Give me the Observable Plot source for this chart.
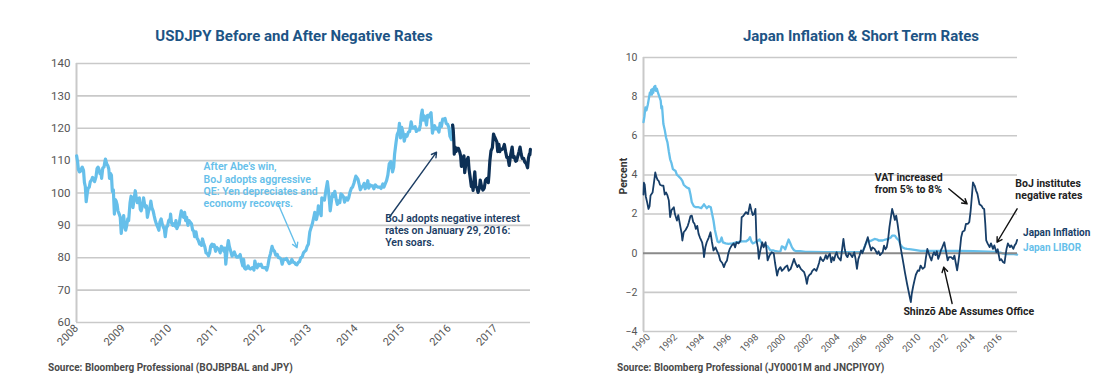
<!DOCTYPE html>
<html><head><meta charset="utf-8">
<script src="https://cdn.jsdelivr.net/npm/d3@7"></script>
<script src="https://cdn.jsdelivr.net/npm/@observablehq/plot@0.6"></script>
<style>
body{margin:0;background:#fff;font-family:Roboto,"Liberation Sans",sans-serif;}
#wrap{position:relative;width:1120px;height:390px;overflow:hidden;background:#fff}
.title{position:absolute;top:27px;font-weight:700;font-size:15px;line-height:18px;color:#1d5485;text-align:center;white-space:nowrap}
.src{position:absolute;top:362px;font-size:10px;line-height:12px;font-weight:700;color:#4a4a4a;white-space:nowrap}
.chart{position:absolute}
</style></head>
<body><div id="wrap">
<div class="title" style="left:94px;width:400px">USDJPY Before and After Negative Rates</div>
<div class="title" style="left:661px;width:400px">Japan Inflation &amp; Short Term Rates</div>
<div class="src" style="left:48px">Source: Bloomberg Professional (BOJBPBAL and JPY)</div>
<div class="src" style="left:617px">Source: Bloomberg Professional (JY0001M and JNCPIYOY)</div>
<div id="left" class="chart" style="left:0;top:50px"></div>
<div id="right" class="chart" style="left:560px;top:45px"></div>
</div>
<script>
// ---------- Left chart data: USDJPY ----------
const usdjpyBefore = [
["2008-01-02",111.5],["2008-01-10",109.5],["2008-01-16",107.2],["2008-01-24",106.5],["2008-02-01",106.7],["2008-02-08",107.5],["2008-02-15",108.0],["2008-02-25",107.0],
["2008-03-03",103.3],["2008-03-10",102.0],["2008-03-17",97.3],["2008-03-25",99.8],["2008-04-01",101.5],["2008-04-10",101.8],["2008-04-18",103.5],["2008-04-28",104.0],
["2008-05-06",104.8],["2008-05-14",104.3],["2008-05-22",103.5],["2008-06-02",105.0],["2008-06-10",107.5],["2008-06-18",108.0],["2008-06-26",107.3],["2008-07-03",106.0],
["2008-07-11",106.5],["2008-07-16",104.5],["2008-07-25",107.7],["2008-08-04",108.0],["2008-08-11",109.8],["2008-08-15",110.5],["2008-08-25",109.0],["2008-09-02",108.5],
["2008-09-10",107.5],["2008-09-16",104.5],["2008-09-24",106.0],["2008-10-01",105.5],["2008-10-08",100.5],["2008-10-16",101.0],["2008-10-24",93.5],["2008-10-31",98.0],
["2008-11-07",97.5],["2008-11-14",96.5],["2008-11-21",94.5],["2008-12-01",93.5],["2008-12-09",92.5],["2008-12-17",87.5],["2008-12-24",90.5],
["2009-01-05",93.0],["2009-01-13",89.5],["2009-01-21",88.5],["2009-01-29",90.0],["2009-02-06",92.0],["2009-02-13",91.5],["2009-02-24",97.0],["2009-03-04",99.0],
["2009-03-11",98.5],["2009-03-19",95.5],["2009-03-27",98.0],["2009-04-06",100.7],["2009-04-14",98.5],["2009-04-22",97.0],["2009-04-30",98.0],["2009-05-08",98.5],
["2009-05-15",95.0],["2009-05-22",94.5],["2009-06-01",96.0],["2009-06-10",98.5],["2009-06-18",96.5],["2009-06-26",95.5],["2009-07-03",96.0],["2009-07-10",92.5],
["2009-07-20",94.5],["2009-07-30",95.5],["2009-08-06",97.5],["2009-08-14",95.5],["2009-08-24",94.5],["2009-09-01",93.0],["2009-09-10",91.5],["2009-09-18",90.5],
["2009-09-29",89.5],["2009-10-08",88.5],["2009-10-16",91.0],["2009-10-26",92.0],["2009-11-03",90.5],["2009-11-12",89.5],["2009-11-20",88.8],["2009-11-27",86.5],
["2009-12-07",89.5],["2009-12-15",89.8],["2009-12-24",91.5],
["2010-01-05",92.0],["2010-01-08",93.5],["2010-01-15",90.8],["2010-01-25",90.0],["2010-02-03",90.5],["2010-02-12",89.8],["2010-02-19",91.5],["2010-02-26",89.0],
["2010-03-08",90.0],["2010-03-16",90.3],["2010-03-24",92.5],["2010-04-02",94.5],["2010-04-12",93.0],["2010-04-20",92.5],["2010-04-28",94.0],["2010-05-06",91.5],
["2010-05-14",92.5],["2010-05-24",90.0],["2010-06-01",91.5],["2010-06-10",91.0],["2010-06-21",90.5],["2010-06-30",88.5],["2010-07-08",88.3],["2010-07-16",86.5],
["2010-07-26",88.0],["2010-08-04",86.0],["2010-08-12",85.5],["2010-08-24",84.2],["2010-09-01",84.3],["2010-09-08",83.8],["2010-09-15",85.8],["2010-09-24",84.5],
["2010-10-04",83.3],["2010-10-13",81.5],["2010-10-22",81.3],["2010-11-01",80.6],["2010-11-10",81.5],["2010-11-18",83.5],["2010-11-29",84.2],["2010-12-08",83.5],
["2010-12-16",84.0],["2010-12-27",82.0],
["2011-01-05",83.2],["2011-01-13",82.8],["2011-01-24",82.5],["2011-02-01",81.5],["2011-02-10",83.5],["2011-02-21",83.0],["2011-03-02",82.0],["2011-03-10",83.0],
["2011-03-17",78.0],["2011-03-24",81.0],["2011-04-01",84.0],["2011-04-06",85.3],["2011-04-14",83.5],["2011-04-26",81.8],["2011-05-05",80.5],["2011-05-13",81.0],
["2011-05-23",81.8],["2011-06-01",80.8],["2011-06-10",80.2],["2011-06-20",80.2],["2011-06-30",80.5],["2011-07-08",81.0],["2011-07-18",79.0],["2011-07-28",77.5],
["2011-08-04",79.5],["2011-08-11",76.8],["2011-08-19",76.5],["2011-08-30",76.8],["2011-09-08",77.5],["2011-09-16",76.8],["2011-09-26",76.5],["2011-10-05",76.8],
["2011-10-14",77.0],["2011-10-24",76.2],["2011-10-31",79.0],["2011-11-09",77.5],["2011-11-18",76.9],["2011-11-29",78.0],["2011-12-08",77.6],["2011-12-19",78.0],
["2011-12-29",77.0],
["2012-01-10",76.9],["2012-01-20",77.0],["2012-02-01",76.2],["2012-02-10",77.5],["2012-02-20",79.8],["2012-03-01",81.2],["2012-03-14",83.5],["2012-03-22",82.5],
["2012-04-02",82.0],["2012-04-12",80.8],["2012-04-24",81.0],["2012-05-03",80.0],["2012-05-14",80.0],["2012-05-24",79.5],["2012-06-01",78.0],["2012-06-12",79.5],
["2012-06-25",79.5],["2012-07-05",79.8],["2012-07-16",78.9],["2012-07-26",78.2],["2012-08-06",78.5],["2012-08-16",79.5],["2012-08-27",78.6],["2012-09-06",78.5],
["2012-09-14",78.0],["2012-09-25",77.8],["2012-10-04",78.5],["2012-10-15",78.8],["2012-10-25",80.0],["2012-11-05",80.2],["2012-11-15",81.5],["2012-11-26",82.0],
["2012-12-05",82.3],["2012-12-14",83.5],["2012-12-24",84.2],
["2013-01-04",88.0],["2013-01-14",89.3],["2013-01-24",90.5],["2013-02-04",92.5],["2013-02-12",94.0],["2013-02-25",91.8],["2013-03-06",93.5],["2013-03-12",96.0],
["2013-03-25",94.3],["2013-04-03",93.0],["2013-04-08",98.5],["2013-04-18",98.0],["2013-04-29",97.8],["2013-05-09",100.5],["2013-05-22",103.5],["2013-05-30",100.8],
["2013-06-07",97.5],["2013-06-13",94.5],["2013-06-24",98.0],["2013-07-03",99.8],["2013-07-11",99.0],["2013-07-19",100.5],["2013-07-31",97.8],["2013-08-08",96.5],
["2013-08-16",97.6],["2013-08-27",97.0],["2013-09-05",99.7],["2013-09-13",99.5],["2013-09-25",98.8],["2013-10-04",97.2],["2013-10-16",98.5],["2013-10-28",97.8],
["2013-11-05",98.5],["2013-11-15",100.2],["2013-11-26",101.5],["2013-12-05",101.8],["2013-12-16",103.0],["2013-12-31",105.2],
["2014-01-08",104.8],["2014-01-17",104.2],["2014-01-27",102.5],["2014-02-04",101.0],["2014-02-14",101.8],["2014-02-25",102.2],["2014-03-06",103.0],["2014-03-14",101.3],
["2014-03-26",102.2],["2014-04-04",103.8],["2014-04-11",101.5],["2014-04-23",102.5],["2014-05-02",102.2],["2014-05-13",102.2],["2014-05-21",101.3],["2014-06-02",102.5],
["2014-06-13",102.0],["2014-06-25",101.8],["2014-07-07",101.8],["2014-07-17",101.4],["2014-07-31",102.8],["2014-08-08",101.8],["2014-08-19",102.9],["2014-08-29",103.8],
["2014-09-08",105.5],["2014-09-19",109.0],["2014-10-01",109.7],["2014-10-15",106.5],["2014-10-24",108.0],["2014-10-31",112.0],["2014-11-11",115.5],["2014-11-20",118.0],
["2014-12-01",119.0],["2014-12-08",121.5],["2014-12-16",117.0],["2014-12-26",120.3],
["2015-01-06",118.5],["2015-01-15",116.0],["2015-01-26",118.0],["2015-02-05",117.5],["2015-02-16",118.8],["2015-02-26",119.0],["2015-03-10",122.0],["2015-03-20",120.0],
["2015-03-31",120.0],["2015-04-10",120.5],["2015-04-20",119.0],["2015-04-30",119.5],["2015-05-13",119.5],["2015-05-21",121.0],["2015-05-28",124.0],["2015-06-05",125.6],
["2015-06-11",122.5],["2015-06-22",123.8],["2015-07-01",122.5],["2015-07-08",121.0],["2015-07-17",124.0],["2015-07-28",123.5],["2015-08-07",124.5],["2015-08-13",124.8],
["2015-08-24",118.5],["2015-09-01",120.0],["2015-09-10",120.8],["2015-09-18",119.8],["2015-10-01",120.0],["2015-10-14",118.8],["2015-10-23",121.5],["2015-11-02",120.5],
["2015-11-12",122.8],["2015-11-20",122.8],["2015-12-01",123.0],["2015-12-10",121.5],["2015-12-21",121.2],["2015-12-31",120.2],
["2016-01-08",117.5],["2016-01-15",117.0],["2016-01-20",116.5],["2016-01-28",118.5],["2016-01-29",121.0]
];
const usdjpyAfter = [
["2016-01-29",121.0],["2016-02-03",119.5],["2016-02-08",115.8],["2016-02-11",112.0],["2016-02-17",114.2],["2016-02-25",112.8],["2016-03-03",113.8],["2016-03-14",113.8],
["2016-03-24",112.8],["2016-04-01",111.5],["2016-04-07",108.2],["2016-04-18",108.8],["2016-04-27",111.5],["2016-05-03",106.3],["2016-05-12",109.0],["2016-05-20",110.2],
["2016-05-30",111.0],["2016-06-06",107.3],["2016-06-16",104.5],["2016-06-24",102.0],["2016-07-01",102.5],["2016-07-08",100.8],["2016-07-21",106.5],["2016-07-29",102.0],
["2016-08-05",101.8],["2016-08-16",100.2],["2016-08-26",101.5],["2016-09-02",104.0],["2016-09-12",102.0],["2016-09-23",100.9],["2016-10-03",101.5],["2016-10-13",104.0],
["2016-10-25",104.5],["2016-11-04",103.2],["2016-11-09",105.5],["2016-11-16",109.8],["2016-11-25",113.0],["2016-12-06",114.0],["2016-12-15",118.2],["2016-12-22",117.5],
["2016-12-30",116.8],["2017-01-10",115.8],["2017-01-17",112.8],["2017-01-26",115.0],["2017-02-02",112.8],["2017-02-10",113.5],["2017-02-21",113.5],["2017-03-02",114.0],
["2017-03-10",115.0],["2017-03-20",112.7],["2017-03-29",111.0],["2017-04-07",111.0],["2017-04-17",108.5],["2017-04-27",111.5],["2017-05-10",114.2],["2017-05-18",111.0],
["2017-05-26",111.3],["2017-06-07",109.8],["2017-06-14",110.0],["2017-06-23",111.3],["2017-07-03",112.8],["2017-07-11",114.2],["2017-07-20",112.0],["2017-07-28",110.7],
["2017-08-08",110.7],["2017-08-17",109.6],["2017-08-29",109.0],["2017-09-08",107.8],["2017-09-15",110.8],["2017-09-22",112.0],["2017-09-26",111.8],["2017-09-30",113.5]
];
const usdTicks = [60,70,80,90,100,110,120,130,140];
const usdYears = ["2008","2009","2010","2011","2012","2013","2014","2015","2016","2017"];
const usdNotes = [
  {date:"2010-09-24", value:109.6, text:"After Abe's win,\nBoJ adopts aggressive\nQE: Yen depreciates and\neconomy recovers.", color:"light"},
  {date:"2014-08-18", value:93.6, text:"BoJ adopts negative interest\nrates on January 29, 2016:\nYen soars.", color:"dark"}
];
const usdArrows = [
  {from:"2012-04-30", v1:96.7, to:"2012-09-26", v2:83.1, color:"light"},
  {from:"2014-09-20", v1:92.5, to:"2015-09-25", v2:112.6, color:"dark"}
];

// ---------- Right chart data: Japan inflation & LIBOR (decimal years) ----------
const inflation = [
[1989.63,3.0],[1989.66,3.6],[1989.72,3.5],[1989.8,2.9],[1989.9,2.6],[1990.0,2.26],[1990.08,2.4],[1990.15,2.95],[1990.3,3.1],[1990.42,3.7],[1990.5,4.13],[1990.58,3.9],
[1990.67,3.75],[1990.75,3.7],[1990.85,3.5],[1991.0,3.45],[1991.1,3.45],[1991.2,3.0],[1991.3,3.1],[1991.4,2.95],[1991.5,2.7],[1991.6,1.84],[1991.7,2.2],[1991.87,2.35],
[1991.95,2.0],[1992.1,1.67],[1992.2,1.95],[1992.36,1.33],[1992.45,1.0],[1992.5,0.65],[1992.6,1.07],[1992.75,1.2],[1992.9,1.4],[1992.98,1.58],[1993.1,1.9],[1993.2,1.92],
[1993.3,1.6],[1993.4,1.5],[1993.5,1.24],[1993.6,1.4],[1993.7,0.99],[1993.8,0.8],[1993.96,0.56],[1994.05,0.2],[1994.1,-0.2],[1994.2,0.3],[1994.3,0.56],[1994.45,0.8],
[1994.58,1.07],[1994.68,0.6],[1994.8,0.14],[1994.95,0.3],[1995.1,0.05],[1995.2,-0.1],[1995.3,-0.37],[1995.45,-0.5],[1995.57,-0.71],[1995.68,-0.5],[1995.8,-0.37],[1995.9,0.0],
[1996.0,0.22],[1996.15,0.4],[1996.3,0.5],[1996.4,0.3],[1996.5,0.56],[1996.65,0.5],[1996.8,0.65],[1996.88,1.84],[1997.0,1.9],[1997.2,2.1],[1997.35,2.0],[1997.5,2.5],
[1997.6,2.2],[1997.7,1.95],[1997.8,2.0],[1997.9,2.26],[1997.98,0.65],[1998.08,0.3],[1998.15,-0.29],[1998.25,0.1],[1998.4,0.56],[1998.5,0.3],[1998.65,0.56],[1998.72,0.2],
[1998.8,-0.37],[1998.95,-0.1],[1999.1,0.05],[1999.25,0.0],[1999.35,-0.5],[1999.5,-1.14],[1999.6,-0.85],[1999.75,-0.71],[1999.85,-0.9],[2000.0,-0.8],[2000.1,-0.7],[2000.25,-0.63],
[2000.35,-0.9],[2000.5,-0.8],[2000.6,-0.6],[2000.75,-0.29],[2000.85,-0.5],[2001.0,-0.71],[2001.1,-0.6],[2001.25,-0.8],[2001.4,-0.9],[2001.5,-0.97],[2001.6,-1.2],[2001.7,-1.56],
[2001.8,-1.2],[2001.9,-1.1],[2002.0,-1.05],[2002.1,-0.9],[2002.25,-0.8],[2002.4,-0.9],[2002.5,-0.71],[2002.6,-0.5],[2002.7,-0.2],[2002.75,-0.29],[2002.9,-0.4],[2003.0,-0.29],
[2003.1,-0.1],[2003.2,-0.29],[2003.3,-0.12],[2003.4,-0.03],[2003.5,-0.46],[2003.6,-0.2],[2003.7,-0.37],[2003.8,-0.1],[2003.9,0.05],[2004.0,-0.2],[2004.2,-0.37],[2004.3,0.2],
[2004.4,0.73],[2004.5,0.2],[2004.6,-0.1],[2004.7,-0.2],[2004.8,0.0],[2004.9,-0.03],[2005.05,-0.2],[2005.2,0.05],[2005.3,-0.3],[2005.4,-0.8],[2005.5,-0.3],[2005.6,-0.1],
[2005.7,0.14],[2005.8,0.0],[2005.9,0.2],[2006.0,0.39],[2006.1,0.6],[2006.2,0.82],[2006.3,0.5],[2006.45,0.14],[2006.55,0.3],[2006.7,0.22],[2006.8,0.1],[2006.9,-0.03],
[2007.0,0.1],[2007.1,-0.1],[2007.3,0.05],[2007.4,0.39],[2007.5,0.2],[2007.6,0.31],[2007.7,0.7],[2007.8,1.33],[2007.9,1.8],[2008.0,2.26],[2008.1,2.0],[2008.2,1.7],
[2008.3,1.92],[2008.4,1.5],[2008.5,0.99],[2008.6,0.4],[2008.75,-0.2],[2008.85,-0.6],[2008.95,-1.0],[2009.1,-1.56],[2009.2,-1.9],[2009.3,-2.24],[2009.38,-2.5],[2009.45,-2.07],
[2009.55,-1.7],[2009.65,-1.39],[2009.75,-1.1],[2009.9,-0.88],[2010.0,-0.9],[2010.1,-0.63],[2010.25,-0.8],[2010.4,-0.71],[2010.5,-0.2],[2010.6,0.22],[2010.7,0.0],[2010.8,-0.2],
[2010.9,-0.37],[2011.0,-0.1],[2011.1,0.05],[2011.2,-0.1],[2011.3,0.1],[2011.4,-0.29],[2011.5,-0.1],[2011.6,0.14],[2011.7,0.3],[2011.85,0.56],[2011.95,0.2],[2012.1,-0.37],
[2012.2,-0.2],[2012.35,-0.2],[2012.5,-0.3],[2012.6,-0.12],[2012.7,-0.5],[2012.8,-0.88],[2012.9,-0.4],[2013.0,0.14],[2013.1,0.82],[2013.2,1.1],[2013.35,1.16],[2013.45,1.5],
[2013.6,1.5],[2013.7,1.6],[2013.8,2.18],[2013.9,3.0],[2013.97,3.62],[2014.05,3.5],[2014.1,3.45],[2014.2,3.2],[2014.3,3.03],[2014.45,2.5],[2014.6,2.43],[2014.7,2.3],
[2014.8,2.26],[2014.88,1.5],[2014.95,0.65],[2015.05,0.5],[2015.2,0.31],[2015.3,0.5],[2015.45,0.22],[2015.55,0.4],[2015.7,0.05],[2015.8,0.2],[2015.95,-0.37],[2016.05,-0.3],
[2016.2,-0.46],[2016.3,-0.5],[2016.4,0.0],[2016.45,0.22],[2016.55,0.5],[2016.7,0.31],[2016.8,0.4],[2016.95,0.22],[2017.05,0.4],[2017.15,0.5],[2017.23,0.68]
];
const libor = [
[1989.63,6.7],[1989.7,7.0],[1989.77,7.45],[1989.85,7.3],[1989.95,7.6],[1990.05,8.0],[1990.1,8.2],[1990.15,8.1],[1990.2,8.35],[1990.25,8.1],[1990.3,8.4],[1990.35,8.2],
[1990.42,8.5],[1990.5,8.55],[1990.55,8.3],[1990.62,8.4],[1990.7,8.2],[1990.8,8.0],[1990.9,7.8],[1990.95,7.4],[1991.0,7.5],[1991.1,6.6],[1991.2,6.3],[1991.3,5.9],
[1991.4,5.66],[1991.5,5.2],[1991.6,4.8],[1991.7,4.6],[1991.8,4.3],[1992.0,4.2],[1992.1,4.0],[1992.2,3.95],[1992.4,3.8],[1992.5,3.7],[1992.6,3.5],[1992.8,3.37],
[1993.0,3.3],[1993.1,3.0],[1993.2,2.6],[1993.35,2.4],[1993.5,2.35],[1993.7,2.35],[1993.9,2.3],[1994.1,2.5],[1994.3,2.3],[1994.45,2.4],[1994.6,2.35],[1994.7,2.0],
[1994.8,1.67],[1994.9,1.2],[1995.1,0.6],[1995.2,0.56],[1995.3,0.6],[1995.4,0.8],[1995.5,0.55],[1995.7,0.5],[1995.9,0.48],[1996.2,0.5],[1996.5,0.55],[1996.9,0.6],
[1997.2,0.6],[1997.4,0.7],[1997.5,0.82],[1997.6,0.6],[1997.7,0.5],[1997.85,0.55],[1998.0,0.6],[1998.2,0.7],[1998.4,0.46],[1998.6,0.4],[1998.8,0.35],[1999.0,0.14],
[1999.2,0.15],[1999.4,0.1],[1999.6,0.08],[1999.75,0.1],[1999.85,0.35],[2000.0,0.3],[2000.1,0.2],[2000.25,0.5],[2000.35,0.7],[2000.45,0.55],[2000.6,0.3],[2000.75,0.15],
[2000.9,0.1],[2001.2,0.1],[2001.6,0.07],[2002.0,0.07],[2003.0,0.06],[2004.0,0.06],[2005.0,0.06],[2005.8,0.07],[2005.9,0.2],[2006.0,0.39],[2006.1,0.55],[2006.2,0.65],
[2006.4,0.62],[2006.7,0.73],[2006.9,0.7],[2007.0,0.65],[2007.3,0.65],[2007.5,0.7],[2007.7,0.73],[2007.9,0.8],[2008.0,0.9],[2008.2,0.9],[2008.35,0.75],[2008.5,0.65],
[2008.6,0.45],[2008.75,0.31],[2008.9,0.25],[2009.1,0.22],[2009.4,0.2],[2009.65,0.17],[2010.1,0.12],[2011.0,0.12],[2012.0,0.12],[2013.0,0.12],[2014.0,0.1],[2015.1,0.08],
[2015.6,0.07],[2016.0,0.03],[2016.2,-0.02],[2016.5,-0.05],[2016.8,-0.04],[2017.0,-0.05],[2017.23,-0.07]
];
const rateTicks = [-4,-2,0,2,4,6,8,10];
const rateYears = [1990,1992,1994,1996,1998,2000,2002,2004,2006,2008,2010,2012,2014,2016];
const rateNotes = [
  {year:2006.71, value:4.14, text:"VAT increased\nfrom 5% to 8%"},
  {year:2017.1, value:3.83, text:"BoJ institutes\nnegative rates"},
  {year:2008.83, value:-2.72, text:"Shinzō Abe Assumes Office"}
];
const rateArrows = [
  {x1:2012.18, y1:3.29, x2:2013.54, y2:2.52},
  {x1:2017.23, y1:2.27, x2:2015.75, y2:0.56},
  {x1:2012.43, y1:-2.57, x2:2011.81, y2:-0.71}
];
const legendItems = [
  {year:2017.67, value:1.02, label:"Japan Inflation", color:"dark"},
  {year:2017.67, value:0.26, label:"Japan LIBOR", color:"light"}
];

// ---------- styles ----------
const LIGHT = "#66bfea";
const DARK = "#0c2f55";
const NAVY2 = "#173e68";
const GRID = "#c9c9c9";
const FONT = "Roboto, 'Liberation Sans', sans-serif";

const toPts = arr => arr.map(([d, v]) => ({date: new Date(d), value: v}));
const before = toPts(usdjpyBefore);
const after = toPts(usdjpyAfter);

const leftChart = Plot.plot({
  width: 560, height: 310,
  marginLeft: 76, marginRight: 30, marginTop: 13, marginBottom: 38,
  style: {fontFamily: FONT, overflow: "visible", background: "transparent"},
  x: {type: "utc", domain: [new Date("2008-01-01"), new Date("2017-10-01")]},
  y: {domain: [60, 140]},
  marks: [
    Plot.ruleY(usdTicks, {stroke: GRID, strokeWidth: 1.6}),
    Plot.ruleX([new Date("2008-01-01")], {stroke: GRID, strokeWidth: 2}),
    Plot.axisY(usdTicks, {tickSize: 0, tickPadding: 6, fontSize: 11.5, fill: "#555", label: null}),
    Plot.axisX(usdYears.map(y => new Date(y + "-01-01")), {tickSize: 0, tickPadding: 4, tickRotate: -45, tickFormat: d3.utcFormat("%Y"), fontSize: 11, fill: "#555", label: null}),
    Plot.line(before, {x: "date", y: "value", stroke: LIGHT, strokeWidth: 3.2, strokeLinejoin: "round"}),
    Plot.line(after, {x: "date", y: "value", stroke: DARK, strokeWidth: 3.2, strokeLinejoin: "round"}),
    Plot.arrow(usdArrows, {x1: d => new Date(d.from), y1: "v1", x2: d => new Date(d.to), y2: "v2", stroke: d => d.color === "light" ? LIGHT : "#1c3d63", strokeWidth: 1.4, headLength: 6}),
    Plot.text(usdNotes, {x: d => new Date(d.date), y: "value", text: "text", textAnchor: "start", lineAnchor: "top", lineHeight: 1.15, fontSize: 10.5, fontWeight: 600, fill: d => d.color === "light" ? LIGHT : "#1c3d63"})
  ]
});
document.getElementById("left").appendChild(leftChart);

const inf = inflation.map(([x, v]) => ({year: x, value: v}));
const lib = libor.map(([x, v]) => ({year: x, value: v}));

const rightChart = Plot.plot({
  width: 560, height: 320,
  marginLeft: 83, marginRight: 103, marginTop: 12, marginBottom: 34,
  style: {fontFamily: FONT, overflow: "visible", background: "transparent"},
  x: {domain: [1989.63, 2017.26]},
  y: {domain: [-4, 10]},
  marks: [
    Plot.ruleY(rateTicks.filter(t => t !== 0), {stroke: GRID, strokeWidth: 1.6}),
    Plot.ruleX([1989.63], {stroke: GRID, strokeWidth: 2}),
    Plot.axisY(rateTicks, {tickSize: 0, tickPadding: 6, fontSize: 10.5, fill: "#555", label: null}),
    Plot.axisX(rateYears, {tickSize: 0, tickPadding: 4, tickRotate: -45, tickFormat: d => String(d), fontSize: 9.5, fill: "#555", label: null}),
    Plot.text(["Percent"], {frameAnchor: "left", rotate: -90, dx: -20, fontSize: 10.5, fontWeight: 700, fill: "#333"}),
    Plot.line(lib, {x: "year", y: "value", stroke: LIGHT, strokeWidth: 2.3, strokeLinejoin: "round"}),
    Plot.ruleY([0], {stroke: "#8a8a8a", strokeWidth: 2}),
    Plot.line(inf, {x: "year", y: "value", stroke: NAVY2, strokeWidth: 1.8, strokeLinejoin: "round"}),
    Plot.arrow(rateArrows, {x1: "x1", y1: "y1", x2: "x2", y2: "y2", stroke: "#111", strokeWidth: 1.4, headLength: 6}),
    Plot.text(rateNotes, {x: "year", y: "value", text: "text", textAnchor: "start", lineAnchor: "top", lineHeight: 1.15, fontSize: 10.5, fontWeight: 700, fill: "#222"}),
    Plot.text(legendItems, {x: "year", y: "value", text: "label", textAnchor: "start", fontSize: 10, fontWeight: 700, fill: d => d.color === "light" ? LIGHT : NAVY2})
  ]
});
document.getElementById("right").appendChild(rightChart);
</script>
</body></html>
